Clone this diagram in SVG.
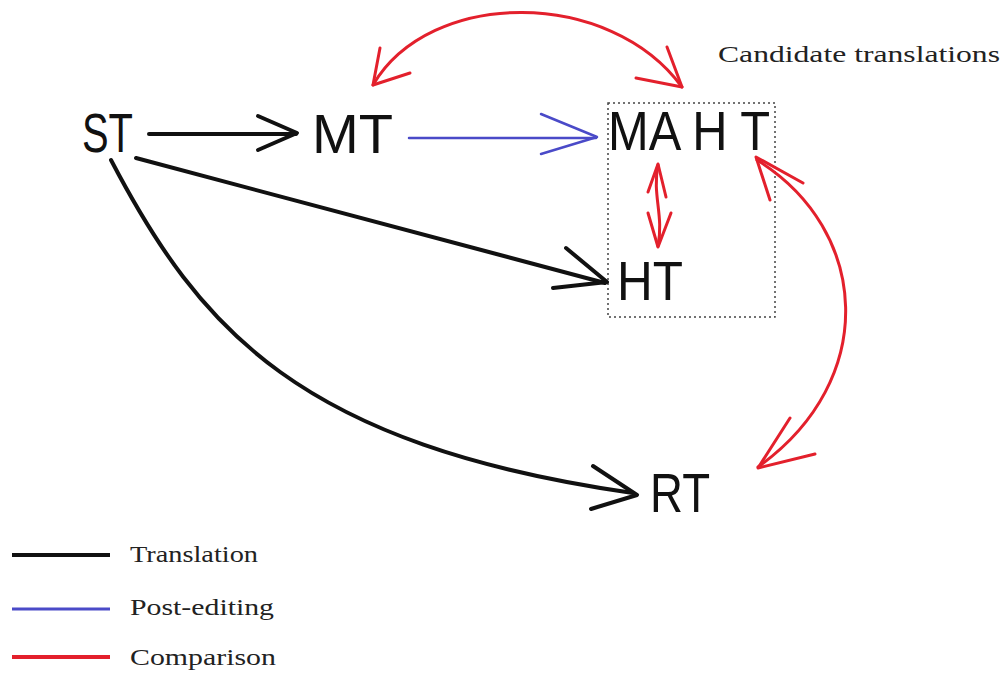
<svg xmlns="http://www.w3.org/2000/svg" width="1004" height="675" viewBox="0 0 1004 675">
<style>
.node{font-family:"Liberation Sans","Open Sans",sans-serif;font-size:56px;fill:#111}
.serif{font-family:"Liberation Serif","DejaVu Serif",serif;font-size:23px;fill:#222}
.blk{fill:none;stroke:#111;stroke-width:4;stroke-linecap:round;stroke-linejoin:round}
.blu{fill:none;stroke:#4a4ac8;stroke-width:2.5;stroke-linecap:round;stroke-linejoin:round}
.red{fill:none;stroke:#e3202c;stroke-width:3;stroke-linecap:round;stroke-linejoin:round}
</style>
<rect width="1004" height="675" fill="#fff"/>
<g id="candidates">
<rect x="608" y="103" width="167" height="214" fill="none" stroke="#444" stroke-width="1.5" stroke-dasharray="2,3"/>
<text class="serif" x="718" y="62" textLength="282" lengthAdjust="spacingAndGlyphs">Candidate translations</text>
</g>
<g id="ST"><text class="node" x="82" y="152" textLength="51" lengthAdjust="spacingAndGlyphs">ST</text></g>
<g id="MT"><text class="node" x="312" y="153" textLength="81" lengthAdjust="spacingAndGlyphs">MT</text></g>
<g id="MAHT"><text class="node" x="608" y="150" textLength="162" lengthAdjust="spacingAndGlyphs">MA H T</text></g>
<g id="HT"><text class="node" x="617" y="300" textLength="66" lengthAdjust="spacingAndGlyphs">HT</text></g>
<g id="RT"><text class="node" x="650" y="512" textLength="60" lengthAdjust="spacingAndGlyphs">RT</text></g>
<g id="connectors">
<path class="blk" d="M149,134 L296,134"/>
<polyline class="blk" points="258,116 297,133 258,150"/>
<path class="blu" d="M409,138 L596,138"/>
<polyline class="blu" points="541,114 597,137 541,154"/>
<path class="blk" d="M136,158 L605,283"/>
<polyline class="blk" points="566,248 607,282 553,288"/>
<path class="blk" d="M111,160 C 200,330 300,445 633,493"/>
<polyline class="blk" points="593,466 637,495 591,509"/>
<path class="red" d="M373,85 C 430,-12 610,-12 682,87"/>
<polyline class="red" points="380,48 373,85 410,73"/>
<polyline class="red" points="667,47 682,87 636,78"/>
<path class="red" stroke-width="4" d="M658,165 C 652,195 664,215 658,246"/>
<polyline class="red" stroke-width="3.5" points="648,192 658,164 666,197"/>
<polyline class="red" stroke-width="3.5" points="648,213 658,247 671,213"/>
<path class="red" d="M757,160 C 870,230 880,380 758,467"/>
<polyline class="red" points="803,183 756,157 770,200"/>
<polyline class="red" points="790,418 758,468 815,454"/>
</g>
<g id="legend">
<line x1="12" y1="555" x2="110" y2="555" stroke="#111" stroke-width="4"/>
<text class="serif" x="130" y="562" textLength="128" lengthAdjust="spacingAndGlyphs">Translation</text>
<line x1="12" y1="609" x2="110" y2="609" stroke="#4a4ac8" stroke-width="3"/>
<text class="serif" x="130" y="615" textLength="144" lengthAdjust="spacingAndGlyphs">Post-editing</text>
<line x1="12" y1="657" x2="110" y2="657" stroke="#e3202c" stroke-width="4"/>
<text class="serif" x="130" y="665" textLength="146" lengthAdjust="spacingAndGlyphs">Comparison</text>
</g>
</svg>
